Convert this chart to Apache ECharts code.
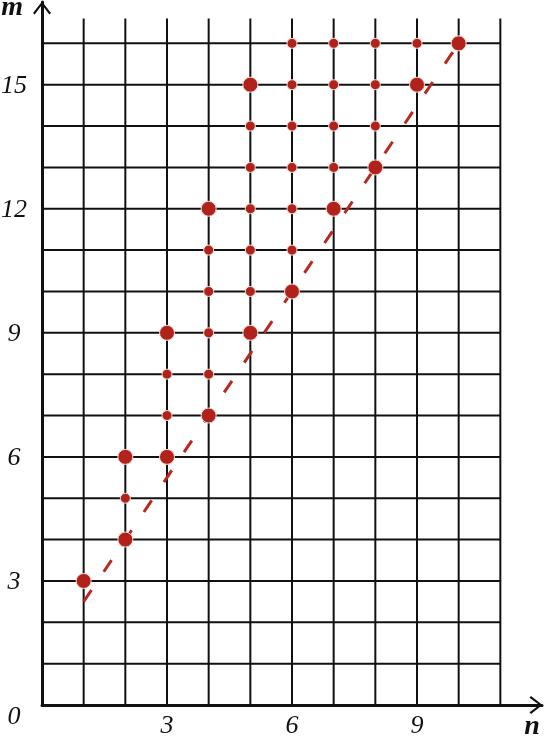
<!DOCTYPE html>
<html><head><meta charset="utf-8">
<script src="https://cdn.jsdelivr.net/npm/echarts@6/dist/echarts.min.js"></script>
<style>html,body{margin:0;padding:0;background:#fff}#c{width:546px;height:741px}</style>
</head><body><div id="c"></div>
<script>
// grid lines (axis values)
const gridColumnsN = [1,2,3,4,5,6,7,8,9,10,11];
const gridRowsM = [1,2,3,4,5,6,7,8,9,10,11,12,13,14,15,16];
const gridTopM = 16.6;
const gridRightN = 11;
// tick labels
const xTickLabels = [3,6,9];
const yTickLabels = [0,3,6,9,12,15];
// points
const largeDots = [[1,3],[2,4],[2,6],[3,6],[3,9],[4,7],[4,12],[5,9],[5,15],[6,10],[7,12],[8,13],[9,15],[10,16]];
const smallDots = [[2,5],[3,7],[3,8],[4,8],[4,9],[4,10],[4,11],[5,10],[5,11],[5,12],[5,13],[5,14],
  [6,11],[6,12],[6,13],[6,14],[6,15],[6,16],[7,13],[7,14],[7,15],[7,16],[8,14],[8,15],[8,16],[9,16]];
// dashed line
const trendN = [1, 10];
const trendM = [2.5, 16];

const chevron = 'path://M9,0 L18,11.5 L16.3,13 L9,3.2 L1.7,13 L0,11.5 Z';
const font = '"Liberation Serif", "DejaVu Serif", serif';
const ink = '#111111';
const red = '#b0221b';

const chart = echarts.init(document.getElementById('c'), null, {renderer:'canvas'});
chart.setOption({
  animation: false,
  backgroundColor: '#fff',
  grid: {left: 42, right: 4, top: 2, bottom: 36, containLabel: false, outerBoundsMode: 'none'},
  xAxis: {
    type: 'value', min: 0, max: 12, interval: 3,
    name: 'n', nameLocation: 'end', nameGap: -10,
    nameTextStyle: {fontFamily: font, fontStyle: 'italic', fontWeight: 'bold', fontSize: 28, color: ink,
      align: 'center', verticalAlign: 'top', padding: [8,0,0,0]},
    axisLine: {show: true, lineStyle: {color: ink, width: 3}, symbol: ['none', chevron], symbolSize: [18, 13], symbolOffset: [0, -6]},
    axisTick: {show: false},
    splitLine: {show: false},
    axisLabel: {fontFamily: font, fontStyle: 'italic', fontSize: 26, color: ink, margin: 8,
      formatter: v => xTickLabels.indexOf(v) >= 0 ? String(v) : ''}
  },
  yAxis: {
    type: 'value', min: 0, max: 17, interval: 3,
    name: 'm', nameLocation: 'end', nameGap: -6,
    nameTextStyle: {fontFamily: font, fontStyle: 'italic', fontWeight: 'bold', fontSize: 28, color: ink,
      align: 'right', verticalAlign: 'middle', padding: [0, 19, 0, 0]},
    axisLine: {show: true, lineStyle: {color: ink, width: 3}, symbol: ['none', chevron], symbolSize: [18, 13], symbolOffset: [0, -6]},
    axisTick: {show: false},
    splitLine: {show: false},
    axisLabel: {fontFamily: font, fontStyle: 'italic', fontSize: 26, color: ink, margin: 28, align: 'center',
      formatter: v => v === 0 ? '{z|0}' : (yTickLabels.indexOf(v) >= 0 ? '{a|' + v + '}' : ''),
      rich: {
        z: {fontFamily: font, fontStyle: 'italic', fontSize: 26, color: ink, padding: [24, 0, 0, 0]},
        a: {fontFamily: font, fontStyle: 'italic', fontSize: 26, color: ink, padding: [3, 0, 0, 0]}
      }}
  },
  series: [
    {
      type: 'custom', z: 1, silent: true,
      encode: {x: [0, 2], y: [1, 3]},
      data: gridColumnsN.map(n => [n, 0, n, gridTopM]).concat(gridRowsM.map(m => [0, m, gridRightN, m])),
      renderItem: function (params, api) {
        const p1 = api.coord([api.value(0), api.value(1)]);
        const p2 = api.coord([api.value(2), api.value(3)]);
        return {type: 'line', shape: {x1: p1[0], y1: p1[1], x2: p2[0], y2: p2[1]},
          style: {stroke: ink, lineWidth: 2}};
      }
    },
    {
      type: 'line', z: 3, symbol: 'none', silent: true,
      data: trendN.map((n, i) => [n, trendM[i]]),
      lineStyle: {color: '#b8281f', width: 3, type: [14, 22], cap: 'butt'}
    },
    {
      type: 'scatter', z: 4, symbolSize: 10, silent: true,
      data: smallDots,
      itemStyle: {color: red, borderColor: '#f6ddd2', borderWidth: 1, opacity: 1}
    },
    {
      type: 'scatter', z: 5, symbolSize: 15, silent: true,
      data: largeDots,
      itemStyle: {color: red, borderColor: '#f6ddd2', borderWidth: 1, opacity: 1}
    }
  ]
});
</script></body></html>
